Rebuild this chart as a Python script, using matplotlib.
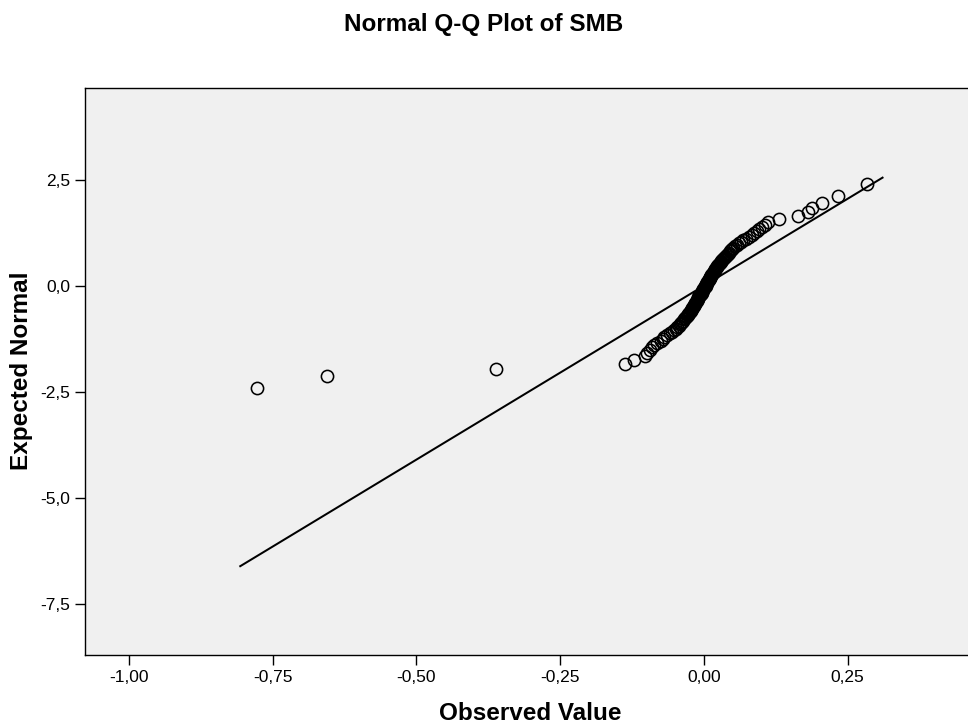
import matplotlib
matplotlib.use("Agg")
import matplotlib.pyplot as plt
from matplotlib.ticker import FixedLocator, FuncFormatter

plt.rcParams['font.family'] = ['Liberation Sans', 'DejaVu Sans']

observed = [
    -0.778, -0.656, -0.361, -0.137, -0.122, -0.103, -0.099, -0.094, -0.090, -0.087,
    -0.082, -0.075, -0.071, -0.070, -0.064, -0.059, -0.056, -0.052, -0.049, -0.047,
    -0.043, -0.042, -0.040, -0.038, -0.037, -0.035, -0.033, -0.031, -0.030, -0.028,
    -0.027, -0.026, -0.024, -0.023, -0.023, -0.021, -0.020, -0.019, -0.018, -0.017,
    -0.016, -0.015, -0.014, -0.013, -0.012, -0.011, -0.010, -0.010, -0.009, -0.007,
    -0.006, -0.005, -0.004, -0.003, -0.003, -0.002, -0.001, 0.000, 0.001, 0.002,
    0.003, 0.003, 0.004, 0.005, 0.006, 0.007, 0.008, 0.009, 0.010, 0.010,
    0.011, 0.012, 0.013, 0.014, 0.016, 0.017, 0.017, 0.019, 0.020, 0.021,
    0.023, 0.023, 0.024, 0.026, 0.028, 0.029, 0.030, 0.031, 0.033, 0.035,
    0.037, 0.038, 0.040, 0.042, 0.043, 0.045, 0.047, 0.049, 0.051, 0.054,
    0.057, 0.061, 0.064, 0.068, 0.073, 0.078, 0.083, 0.087, 0.092, 0.096,
    0.101, 0.106, 0.111, 0.130, 0.163, 0.181, 0.188, 0.205, 0.233, 0.283,
]

# Expected normal values (lower half; upper half mirrors it)
expected_lower = [
    -2.397, -2.131, -1.963, -1.838, -1.735, -1.649, -1.573, -1.505, -1.444, -1.388,
    -1.335, -1.286, -1.240, -1.196, -1.155, -1.116, -1.078, -1.042, -1.006, -0.973,
    -0.940, -0.908, -0.877, -0.847, -0.818, -0.790, -0.762, -0.734, -0.708, -0.681,
    -0.655, -0.630, -0.605, -0.580, -0.556, -0.532, -0.508, -0.484, -0.461, -0.438,
    -0.415, -0.393, -0.371, -0.349, -0.327, -0.305, -0.284, -0.262, -0.241, -0.220,
    -0.199, -0.178, -0.156, -0.135, -0.114, -0.093, -0.073, -0.052, -0.031, -0.010,
]
expected = expected_lower + [-v for v in reversed(expected_lower)]

# Reference line
line_x = [-0.808, 0.312]
line_mean = -0.001
line_sd = 0.1219

x_ticks = [-1.00, -0.75, -0.50, -0.25, 0.00, 0.25]
y_ticks = [2.5, 0.0, -2.5, -5.0, -7.5]

W, H = 968, 725
fig = plt.figure(figsize=(W / 100, H / 100), dpi=100)
fig.patch.set_facecolor('white')

ax_l, ax_r, ax_t, ax_b = 85, 978, 88, 655
ax = fig.add_axes([ax_l / W, 1 - ax_b / H, (ax_r - ax_l) / W, (ax_b - ax_t) / H])
ax.set_facecolor('#F0F0F0')

x0px = 704.0
xs = 575.0
y0px = 286.0
ys = 42.4
ax.set_xlim((ax_l - x0px) / xs, (ax_r - x0px) / xs)
ax.set_ylim((y0px - ax_b) / ys, (y0px - ax_t) / ys)

line_y = [(v - line_mean) / line_sd for v in line_x]
ax.plot(line_x, line_y, color='black', lw=1.45, solid_capstyle='butt', zorder=2)

ax.plot(observed, expected, linestyle='none', marker='o', markersize=8.8,
        markerfacecolor='none', markeredgecolor='black', markeredgewidth=1.15, zorder=3)

for s in ax.spines.values():
    s.set_color('black')
    s.set_linewidth(1.0)

ax.xaxis.set_major_locator(FixedLocator(x_ticks))
ax.yaxis.set_major_locator(FixedLocator(y_ticks))
ax.xaxis.set_major_formatter(FuncFormatter(lambda v, p: f"{v:.2f}".replace('.', ',')))
ax.yaxis.set_major_formatter(FuncFormatter(lambda v, p: f"{v:.1f}".replace('.', ',')))
ax.tick_params(axis='both', direction='out', length=7.5, width=1.0, color='black',
               labelsize=12.5, labelcolor='black', pad=3)

fig.text(484 / W, 1 - 24 / H, 'Normal Q-Q Plot of SMB', ha='center', va='center',
         fontsize=17.5, fontweight='bold')
fig.text(530 / W, 1 - 714 / H, 'Observed Value', ha='center', va='center',
         fontsize=17.5, fontweight='bold')
fig.text(22 / W, 1 - 371 / H, 'Expected Normal', ha='center', va='center',
         rotation=90, fontsize=17.5, fontweight='bold')

fig.savefig('out.png', dpi=100)
